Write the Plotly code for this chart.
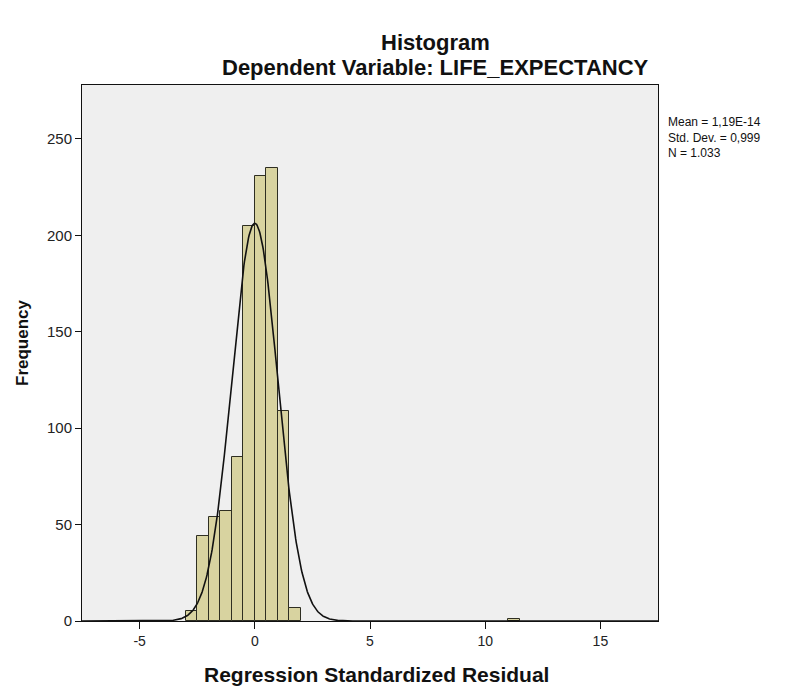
import numpy as np
import plotly.graph_objects as go

# ---- data ----
bin_left_edges = [-3.0, -2.5, -2.0, -1.5, -1.0, -0.5, 0.0, 0.5, 1.0, 1.5, 11.0]
bin_counts = [5, 44, 54, 57, 85, 205, 231, 235, 109, 7, 1]
bin_width = 0.5

stat_mean = 1.19e-14
stat_sd = 0.999
stat_n = 1033
stats_text = ["Mean = 1,19E-14", "Std. Dev. = 0,999", "N = 1.033"]

x_tick_vals = [-5, 0, 5, 10, 15]
x_tick_text = ["-5", "0", "5", "10", "15"]
y_tick_vals = [0, 50, 100, 150, 200, 250]
y_tick_text = ["0", "50", "100", "150", "200", "250"]

title_text = "Histogram"
subtitle_text = "Dependent Variable: LIFE_EXPECTANCY"
x_title = "Regression Standardized Residual"
y_title = "Frequency"

# ---- figure ----
centers = [e + bin_width / 2 for e in bin_left_edges]

fig = go.Figure()
fig.add_trace(go.Bar(
    x=centers, y=bin_counts, width=bin_width,
    marker=dict(color="#d8d3a0", line=dict(color="#2e2e22", width=1)),
    showlegend=False, hoverinfo="x+y",
))

# fitted normal curve from the reported statistics
xc = np.linspace(-7.5, 17.5, 1001)
yc = stat_n * bin_width / (stat_sd * np.sqrt(2 * np.pi)) * np.exp(-0.5 * ((xc - stat_mean) / stat_sd) ** 2)
fig.add_trace(go.Scatter(x=xc, y=yc, mode="lines",
                         line=dict(color="#111111", width=1.6),
                         showlegend=False, hoverinfo="skip"))

# page body has an 8px margin: shift everything so it lands where the reference has it
OFF = 8
W, H = 788 - OFF, 686 - OFF
L, T = 82 - OFF, 85 - OFF
B = 65
R = W - L - 576
pw, ph = W - L - R, H - T - B

def px(xp):
    return (xp - OFF - L) / pw

def py(yp):
    return (H - B - (yp - OFF)) / ph

font_main = "Liberation Sans, Arial, sans-serif"

annotations = [
    dict(text="<b>%s</b>" % title_text, x=px(435), y=py(43), xref="paper", yref="paper",
         xanchor="center", yanchor="middle", showarrow=False,
         font=dict(family=font_main, size=22, color="#111")),
    dict(text="<b>%s</b>" % subtitle_text, x=px(435), y=py(67), xref="paper", yref="paper",
         xanchor="center", yanchor="middle", showarrow=False,
         font=dict(family=font_main, size=22, color="#111")),
    dict(text="<b>%s</b>" % x_title, x=px(376), y=py(674), xref="paper", yref="paper",
         xanchor="center", yanchor="middle", showarrow=False,
         font=dict(family=font_main, size=21, color="#111")),
    dict(text="<b>%s</b>" % y_title, x=px(22), y=py(343), xref="paper", yref="paper",
         xanchor="center", yanchor="middle", showarrow=False, textangle=-90,
         font=dict(family=font_main, size=17, color="#111")),
    dict(text="<br>".join(stats_text), x=px(666), y=py(113), xref="paper", yref="paper",
         xanchor="left", yanchor="top", align="left", showarrow=False,
         font=dict(family=font_main, size=12, color="#111")),
]

fig.update_layout(
    width=W, height=H,
    margin=dict(l=L, r=R, t=T, b=B, pad=0),
    paper_bgcolor="white",
    plot_bgcolor="#efefef",
    bargap=0,
    annotations=annotations,
    xaxis=dict(range=[-7.5, 17.5], tickvals=x_tick_vals, ticktext=x_tick_text,
               showgrid=False, zeroline=False, showline=True, linecolor="#111", linewidth=1,
               mirror=True, ticks="outside", ticklen=7, tickcolor="#111",
               tickfont=dict(family=font_main, size=14, color="#222")),
    yaxis=dict(range=[0, 278], tickvals=y_tick_vals, ticktext=y_tick_text,
               showgrid=False, zeroline=False, showline=True, linecolor="#111", linewidth=1,
               mirror=True, ticks="outside", ticklen=6, tickcolor="#111",
               tickfont=dict(family=font_main, size=15, color="#222")),
)

fig.write_html("out.html")
